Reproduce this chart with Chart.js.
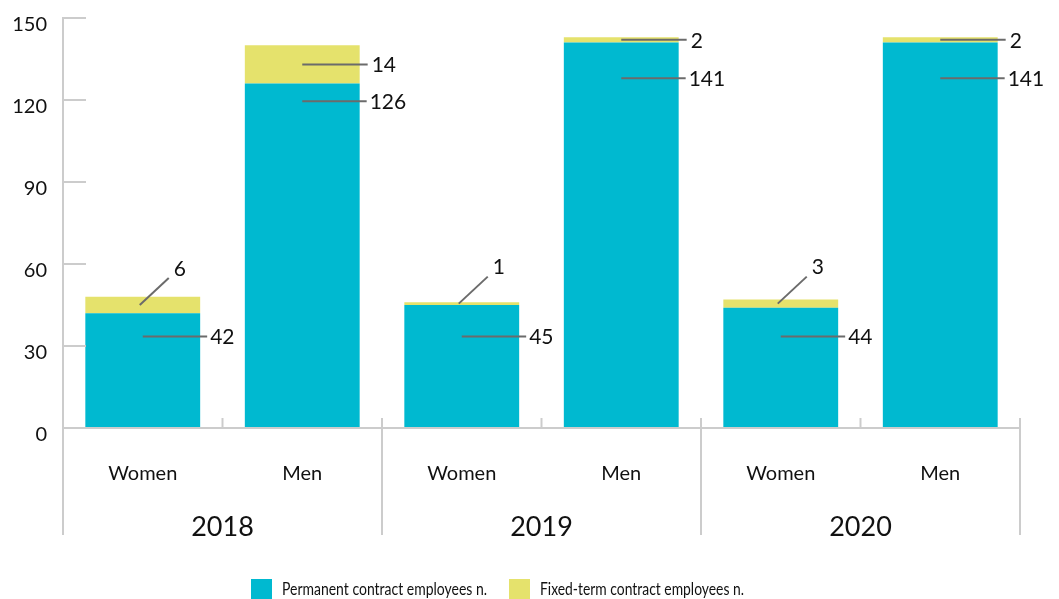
<!DOCTYPE html>
<html lang="en">
<head>
  <meta charset="UTF-8">
  <title>Employees by contract type</title>
  <script src="https://cdn.jsdelivr.net/npm/chart.js"></script>
  <style>
    body { margin: 0; padding: 0; background: #fff; }
    .wrap { width: 1059px; height: 599px; position: relative; }
  </style>
</head>
<body>
  <div class="wrap">
    <canvas id="contractChart" width="1059" height="599"></canvas>
  </div>

  <script>
    // Chart data
    const years = ['2018', '2019', '2020'];
    const categories = ['Women', 'Men', 'Women', 'Men', 'Women', 'Men'];
    const permanent = [42, 126, 45, 141, 44, 141];
    const fixedTerm = [6, 14, 1, 2, 3, 2];
    const yTicks = [0, 30, 60, 90, 120, 150];
    const seriesNames = ['Permanent contract employees n.', 'Fixed-term contract employees n.'];

    // where the leader line of the permanent label sits (axis units)
    const permLabelLevel = [33.5, 119.5, 33.5, 128, 33.5, 128];

    const CYAN = 'rgb(0, 185, 208)';
    const YELLOW = 'rgb(229, 226, 108)';
    const AXIS = '#cccccc';
    const LEADER = '#6b6b6b';
    const TEXT = '#111111';
    const FONT = 'Lato, "Open Sans", sans-serif';

    function line(ctx, x1, y1, x2, y2) {
      ctx.beginPath();
      ctx.moveTo(x1, y1);
      ctx.lineTo(x2, y2);
      ctx.stroke();
    }

    // squeeze text horizontally to a given width (reference font is condensed)
    function fitText(ctx, text, x, y, width) {
      const w = ctx.measureText(text).width;
      ctx.save();
      ctx.translate(x, y);
      ctx.scale(width / w, 1);
      ctx.fillText(text, 0, 0);
      ctx.restore();
    }

    const decorations = {
      id: 'decorations',
      afterDraw(chart) {
        const ctx = chart.ctx;
        const area = chart.chartArea;
        const xs = chart.scales.x;
        const ys = chart.scales.y;
        const slot = (area.right - area.left) / categories.length;
        const bottomY = area.bottom + 107;

        ctx.save();

        // axes
        ctx.strokeStyle = AXIS;
        ctx.lineWidth = 2;
        line(ctx, area.left, area.top - 1, area.left, bottomY);
        line(ctx, area.left, area.bottom, area.right, area.bottom);
        yTicks.forEach(v => {
          const y = ys.getPixelForValue(v);
          if (v > 0) line(ctx, area.left, y, area.left + 23, y);
        });
        for (let i = 1; i <= categories.length; i++) {
          const x = area.left + slot * i;
          if (i % 2 === 1) {
            line(ctx, x, area.bottom - 10, x, area.bottom);
          } else {
            line(ctx, x, area.bottom - 10, x, bottomY);
          }
        }

        // y tick labels
        ctx.fillStyle = TEXT;
        ctx.font = '20px ' + FONT;
        ctx.textAlign = 'right';
        ctx.textBaseline = 'middle';
        yTicks.forEach(v => {
          ctx.fillText(String(v), area.left - 16, ys.getPixelForValue(v) + 7);
        });

        // category + year labels
        ctx.textAlign = 'center';
        ctx.font = '20px ' + FONT;
        categories.forEach((c, i) => {
          ctx.fillText(c, xs.getPixelForValue(i), area.bottom + 46);
        });
        ctx.font = '27px ' + FONT;
        years.forEach((yr, i) => {
          ctx.fillText(yr, area.left + slot * (2 * i + 1), area.bottom + 99);
        });

        // value labels with leader lines
        const permMeta = chart.getDatasetMeta(0).data;
        const fixedMeta = chart.getDatasetMeta(1).data;
        ctx.font = '21px ' + FONT;
        ctx.textAlign = 'left';
        ctx.strokeStyle = LEADER;
        ctx.lineWidth = 2;

        permMeta.forEach((bar, i) => {
          const y = ys.getPixelForValue(permLabelLevel[i]);
          const right = bar.x + bar.width / 2;
          line(ctx, bar.x, y, right + 7, y);
          ctx.fillText(String(permanent[i]), right + 10, y + 1);
        });

        fixedMeta.forEach((bar, i) => {
          const mid = (bar.y + bar.base) / 2;
          if (categories[i] === 'Women') {
            const sx = bar.x - 3;
            line(ctx, sx, mid, sx + 29, mid - 27);
            ctx.textAlign = 'center';
            ctx.fillText(String(fixedTerm[i]), bar.x + 37, mid - 36);
          } else {
            const right = bar.x + bar.width / 2;
            line(ctx, bar.x, mid, right + 8, mid);
            ctx.textAlign = 'left';
            ctx.fillText(String(fixedTerm[i]), right + 12, mid + 1);
          }
        });

        // legend
        ctx.font = '17px ' + FONT;
        ctx.textAlign = 'left';
        const legendX = [251, 509];
        const legendW = [205, 204];
        const legendColors = [CYAN, YELLOW];
        seriesNames.forEach((name, i) => {
          ctx.fillStyle = legendColors[i];
          ctx.fillRect(legendX[i], 579, 21, 20);
          ctx.fillStyle = TEXT;
          fitText(ctx, name, legendX[i] + 31, 590, legendW[i]);
        });

        ctx.restore();
      }
    };

    function createChart() {
      const ctx = document.getElementById('contractChart').getContext('2d');
      new Chart(ctx, {
        type: 'bar',
        data: {
          labels: categories,
          datasets: [
            { label: seriesNames[0], data: permanent, backgroundColor: CYAN },
            { label: seriesNames[1], data: fixedTerm, backgroundColor: YELLOW }
          ]
        },
        options: {
          responsive: false,
          animation: false,
          layout: { padding: { left: 63, right: 39, top: 18, bottom: 171 } },
          datasets: { bar: { barPercentage: 0.72, categoryPercentage: 1.0 } },
          scales: {
            x: { stacked: true, display: false },
            y: { stacked: true, display: false, min: 0, max: 150 }
          },
          plugins: {
            legend: { display: false },
            tooltip: { enabled: false }
          }
        },
        plugins: [decorations]
      });
    }

    document.addEventListener('DOMContentLoaded', createChart);
  </script>
</body>
</html>
